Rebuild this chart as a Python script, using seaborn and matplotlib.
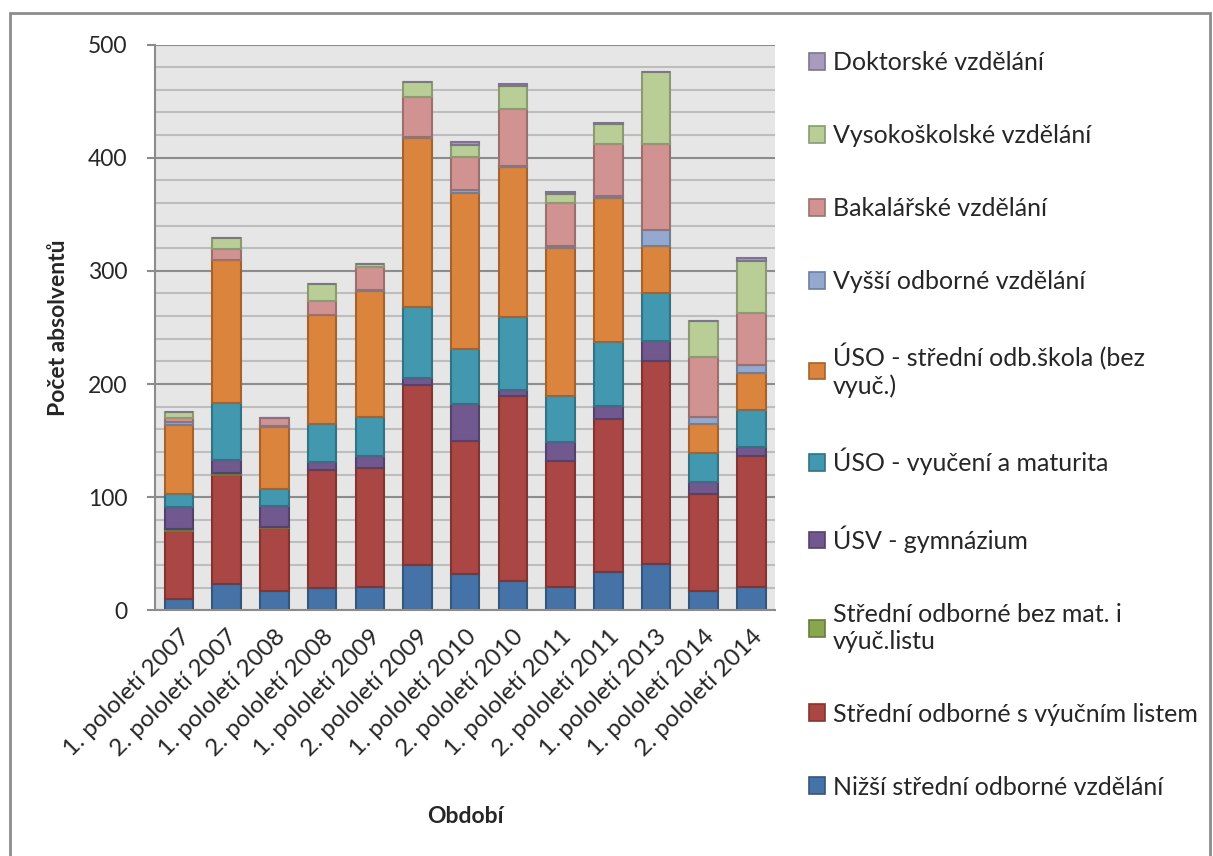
import numpy as np
import pandas as pd
import seaborn as sns
import matplotlib.pyplot as plt
from matplotlib.patches import Rectangle
import matplotlib.colors as mcolors

# obdobi (osa x)
obdobi = ["1. pololetí 2007", "2. pololetí 2007", "1. pololetí 2008", "2. pololetí 2008",
          "1. pololetí 2009", "2. pololetí 2009", "1. pololetí 2010", "2. pololetí 2010",
          "1. pololetí 2011", "2. pololetí 2011", "1. pololetí 2013", "1. pololetí 2014",
          "2. pololetí 2014"]

# pocty absolventu podle urovne vzdelani (odspodu nahoru)
nizsi_stredni = [10, 23, 17, 20, 21, 40, 32, 26, 21, 34, 41, 17, 21]
s_vyucnim = [60, 97, 56, 104, 105, 159, 118, 163, 111, 135, 179, 86, 115]
bez_maturity = [2, 1, 1, 0, 0, 0, 0, 0, 0, 0, 0, 0, 0]
gymnazium = [19, 12, 18, 7, 10, 6, 32, 6, 17, 12, 18, 10, 8]
vyuceni_maturita = [12, 50, 15, 34, 35, 63, 49, 64, 40, 56, 42, 26, 33]
stredni_skola = [61, 127, 55, 96, 111, 149, 138, 133, 131, 127, 42, 26, 33]
vyssi_odborne = [2, 0, 1, 0, 1, 1, 2, 1, 2, 2, 14, 6, 7]
bakalarske = [4, 9, 7, 12, 20, 36, 30, 50, 38, 46, 76, 53, 46]
vysokoskolske = [5, 10, 0, 15, 3, 13, 10, 20, 8, 18, 64, 32, 46]
doktorske = [0, 0, 0, 0, 0, 0, 3, 2, 2, 1, 0, 0, 2]

serie = [
    ("Nižší střední odborné vzdělání", nizsi_stredni, "#4572A7"),
    ("Střední odborné s výučním listem", s_vyucnim, "#AA4643"),
    ("Střední odborné bez mat. i\nvýuč.listu", bez_maturity, "#89A54E"),
    ("ÚSV - gymnázium", gymnazium, "#71588F"),
    ("ÚSO - vyučení a maturita", vyuceni_maturita, "#4198AF"),
    ("ÚSO - střední odb.škola (bez\nvyuč.)", stredni_skola, "#DB843D"),
    ("Vyšší odborné vzdělání", vyssi_odborne, "#93A9CF"),
    ("Bakalářské vzdělání", bakalarske, "#D19392"),
    ("Vysokoškolské vzdělání", vysokoskolske, "#B9CD96"),
    ("Doktorské vzdělání", doktorske, "#A99BBD"),
]

sns.set_style("white")
plt.rcParams['font.family'] = ['Lato', 'DejaVu Sans']

fig = plt.figure(figsize=(12.13, 8.56), dpi=100)
ax = fig.add_axes([0.128, 0.287, 0.511, 0.661])
ax.set_facecolor("#E6E6E6")


def tmavsi(barva, f=0.75):
    r, g, b = mcolors.to_rgb(barva)
    return (r * f, g * f, b * f)


dole = np.zeros(len(obdobi))
handles = []
for nazev, hodnoty, barva in serie:
    sns.barplot(x=obdobi, y=hodnoty, bottom=dole, color=barva, width=0.6,
                edgecolor=tmavsi(barva), linewidth=1.5, saturation=1, ax=ax)
    dole = dole + np.array(hodnoty)
    handles.append(Rectangle((0, 0), 1, 1, facecolor=barva, edgecolor=tmavsi(barva), linewidth=1.2, label=nazev))

ax.set_ylim(0, 500)
ax.set_xlim(-0.5, len(obdobi) - 0.5)
ax.set_yticks(range(0, 501, 100))
ax.set_yticks(range(0, 501, 20), minor=True)
ax.grid(which="minor", axis="y", color="#BDBDBD", linewidth=1.5)
ax.grid(which="major", axis="y", color="#8C8C8C", linewidth=1.5)
ax.set_axisbelow(True)

for s in ["top", "right"]:
    ax.spines[s].set_visible(False)
for s in ["left", "bottom"]:
    ax.spines[s].set_color("#8C8C8C")
    ax.spines[s].set_linewidth(1.5)

ax.tick_params(axis="y", which="major", direction="out", length=6, width=1.5, color="#8C8C8C",
               left=True, labelsize=16.5, pad=14)
ax.tick_params(axis="y", which="minor", left=False)
ax.tick_params(axis="x", bottom=False, labelsize=17.5, pad=8)
plt.setp(ax.get_xticklabels(), rotation=45, ha="right", rotation_mode="anchor")

ax.set_ylabel("Počet absolventů", fontsize=16.5, fontweight="bold", labelpad=14)
ax.set_xlabel("Období", fontsize=16.5, fontweight="bold", labelpad=33)

# legenda v obracenem poradi jako v Excelu
fig.legend(handles=handles[::-1], loc="upper left", bbox_to_anchor=(0.6565, 0.955),
           frameon=False, fontsize=18, handlelength=0.65, handleheight=0.65,
           handletextpad=0.3, labelspacing=2.0, borderpad=0)

# ramecek kolem celeho grafu
fig.patches.append(Rectangle((10 / 1213, -0.05), 1200 / 1213, 1.05 - 13 / 856,
                             transform=fig.transFigure, fill=False, edgecolor="#8C8C8C",
                             linewidth=2, zorder=-1))

fig.savefig("out.png", dpi=100)
